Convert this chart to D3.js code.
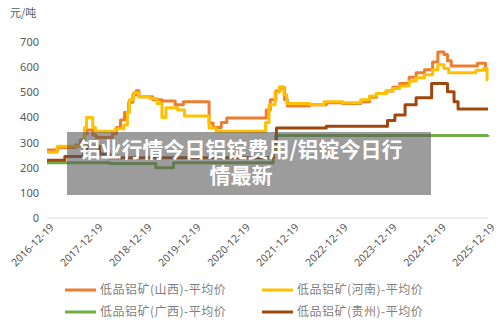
<!DOCTYPE html>
<html lang="zh">
<head>
    <meta charset="UTF-8">
    <title>低品铝矿平均价</title>
    <script src="https://d3js.org/d3.v7.min.js"></script>
    <style>
        body { margin: 0; background: #fff; }
        svg { display: block; font-family: "Noto Sans CJK SC", "Noto Sans", sans-serif; }
    </style>
</head>
<body>
    <svg id="chart" width="500" height="328"></svg>
    <script>
        // data (step changes: date, price)
        const shanxi = [
            ["2016-12-19", 270], ["2017-03-10", 280], ["2017-07-20", 290], ["2017-08-25", 310],
            ["2017-09-25", 335], ["2017-10-15", 350], ["2017-11-25", 330], ["2017-12-20", 320],
            ["2018-04-20", 335], ["2018-05-20", 360], ["2018-06-20", 390], ["2018-07-20", 420],
            ["2018-08-20", 460], ["2018-09-20", 490], ["2018-10-15", 506], ["2018-11-05", 482],
            ["2019-02-15", 470], ["2019-04-25", 465], ["2019-08-01", 450], ["2019-10-01", 462],
            ["2020-04-10", 378], ["2020-05-10", 360], ["2020-07-10", 380], ["2020-08-20", 398],
            ["2021-06-10", 430], ["2021-07-10", 470], ["2021-08-20", 505], ["2021-09-20", 518],
            ["2021-10-25", 470], ["2021-11-15", 445], ["2022-05-01", 450], ["2022-09-01", 458],
            ["2023-01-01", 455], ["2023-05-15", 462], ["2023-07-20", 480], ["2023-09-10", 495],
            ["2023-11-20", 505], ["2024-01-10", 520], ["2024-03-01", 535], ["2024-05-10", 560],
            ["2024-07-01", 578], ["2024-09-01", 590], ["2024-11-01", 620], ["2024-12-10", 660],
            ["2025-01-25", 650], ["2025-02-20", 625], ["2025-03-20", 605], ["2025-10-01", 615],
            ["2025-12-01", 590], ["2025-12-19", 590]
        ];
        const henan = [
            ["2016-12-19", 262], ["2017-03-05", 285], ["2017-09-25", 360], ["2017-10-10", 400],
            ["2017-11-25", 360], ["2017-12-15", 345], ["2018-05-10", 355], ["2018-07-15", 370],
            ["2018-08-10", 420], ["2018-08-25", 470], ["2018-09-25", 498], ["2018-11-01", 482],
            ["2019-01-25", 475], ["2019-03-20", 455], ["2019-04-25", 400], ["2019-05-25", 438],
            ["2019-08-20", 430], ["2019-10-10", 406], ["2020-04-10", 358], ["2020-06-01", 345],
            ["2021-06-05", 380], ["2021-07-01", 450], ["2021-08-15", 500], ["2021-09-15", 522],
            ["2021-10-20", 490], ["2021-11-10", 455], ["2022-05-01", 450], ["2022-08-15", 462],
            ["2023-01-01", 458], ["2023-05-15", 470], ["2023-07-20", 485], ["2023-09-10", 495],
            ["2023-11-20", 505], ["2024-01-10", 515], ["2024-03-01", 525], ["2024-05-10", 545],
            ["2024-07-01", 558], ["2024-09-01", 570], ["2024-11-01", 590], ["2024-12-10", 610],
            ["2025-01-25", 595], ["2025-03-01", 578], ["2025-09-20", 588], ["2025-11-15", 595],
            ["2025-12-12", 550], ["2025-12-19", 550]
        ];
        const guangxi = [
            ["2016-12-19", 220], ["2018-04-01", 217], ["2019-03-10", 200], ["2019-07-20", 220],
            ["2021-08-01", 270], ["2021-08-20", 328], ["2025-12-19", 330]
        ];
        const guizhou = [
            ["2016-12-19", 230], ["2017-05-01", 245], ["2017-09-15", 270], ["2017-10-10", 285],
            ["2018-01-15", 255], ["2018-04-01", 240], ["2021-08-01", 300], ["2021-08-25", 358],
            ["2022-09-01", 365], ["2023-12-01", 388], ["2024-01-25", 410], ["2024-04-10", 450],
            ["2024-07-01", 478], ["2024-10-25", 535], ["2025-02-20", 502], ["2025-04-10", 462],
            ["2025-05-10", 434], ["2025-12-19", 434]
        ];
        const seriesNames = ["低品铝矿(山西)-平均价", "低品铝矿(河南)-平均价", "低品铝矿(广西)-平均价", "低品铝矿(贵州)-平均价"];
        const seriesColors = ["#ED7D31", "#FFC000", "#70AD47", "#9E480E"];
        const xTickLabels = ["2016-12-19", "2017-12-19", "2018-12-19", "2019-12-19", "2020-12-19",
            "2021-12-19", "2022-12-19", "2023-12-19", "2024-12-19", "2025-12-19"];
        const yTicks = [0, 100, 200, 300, 400, 500, 600, 700];
        const unitLabel = "元/吨";
        const overlayTitle = ["铝业行情今日铝锭费用/铝锭今日行", "情最新"];

        const svg = d3.select("#chart");
        const parse = d3.timeParse("%Y-%m-%d");
        const margin = { left: 47, right: 12, top: 42, bottom: 110 };
        const width = 500, height = 328;

        const x = d3.scaleTime()
            .domain([parse(xTickLabels[0]), parse(xTickLabels[xTickLabels.length - 1])])
            .range([margin.left, width - margin.right]);
        const y = d3.scaleLinear()
            .domain([0, 700])
            .range([height - margin.bottom, margin.top]);

        // y axis labels, no gridlines except baseline
        const yAxis = svg.append("g")
            .attr("transform", `translate(${margin.left}, 0)`)
            .call(d3.axisLeft(y).tickValues(yTicks).tickSize(0).tickPadding(8));
        yAxis.select(".domain").remove();
        yAxis.selectAll("text")
            .attr("fill", "#595959")
            .attr("font-size", "11px")
            .attr("font-family", "\"Noto Sans\", sans-serif");

        svg.append("line")
            .attr("x1", margin.left).attr("x2", width - margin.right)
            .attr("y1", y(0)).attr("y2", y(0))
            .attr("stroke", "#d9d9d9").attr("stroke-width", 1);

        svg.append("text")
            .attr("x", 10).attr("y", 17)
            .attr("fill", "#595959").attr("font-size", "11px")
            .text(unitLabel);

        // x axis
        const xAxis = svg.append("g")
            .attr("transform", `translate(0, ${y(0)})`)
            .call(d3.axisBottom(x).tickValues(xTickLabels.map(parse)).tickSize(0)
                .tickFormat(d3.timeFormat("%Y-%m-%d")));
        xAxis.select(".domain").remove();
        xAxis.selectAll("text")
            .attr("fill", "#595959")
            .attr("font-size", "10.5px")
            .attr("font-family", "\"Noto Sans\", sans-serif")
            .attr("text-anchor", "end")
            .attr("dy", 0)
            .attr("transform", "translate(5, 8) rotate(-45)");

        // lines
        const line = d3.line()
            .x(d => x(parse(d[0])))
            .y(d => y(d[1]))
            .curve(d3.curveStepAfter);

        [shanxi, henan, guangxi, guizhou].forEach((data, i) => {
            svg.append("path")
                .datum(data)
                .attr("fill", "none")
                .attr("stroke", seriesColors[i])
                .attr("stroke-width", 3)
                .attr("stroke-linejoin", "round")
                .attr("d", line);
        });

        // legend
        const legend = svg.append("g");
        seriesNames.forEach((name, i) => {
            const lx = i % 2 === 0 ? 65 : 262;
            const ly = i < 2 ? 290 : 312;
            legend.append("line")
                .attr("x1", lx).attr("x2", lx + 31)
                .attr("y1", ly).attr("y2", ly)
                .attr("stroke", seriesColors[i]).attr("stroke-width", 3);
            legend.append("text")
                .attr("x", lx + 35).attr("y", ly + 4)
                .attr("fill", "#7f7f7f").attr("font-size", "12px")
                .attr("letter-spacing", "0.5px")
                .text(name);
        });

        // grey overlay caption
        svg.append("rect")
            .attr("x", 67).attr("y", 132)
            .attr("width", 364).attr("height", 63)
            .attr("fill", "rgba(90,90,90,0.6)");
        overlayTitle.forEach((t, i) => {
            svg.append("text")
                .attr("x", 241).attr("y", 157 + i * 26)
                .attr("text-anchor", "middle")
                .attr("fill", "#fff").attr("font-size", "21px")
                .attr("font-weight", "bold")
                .text(t);
        });
    </script>
</body>
</html>
